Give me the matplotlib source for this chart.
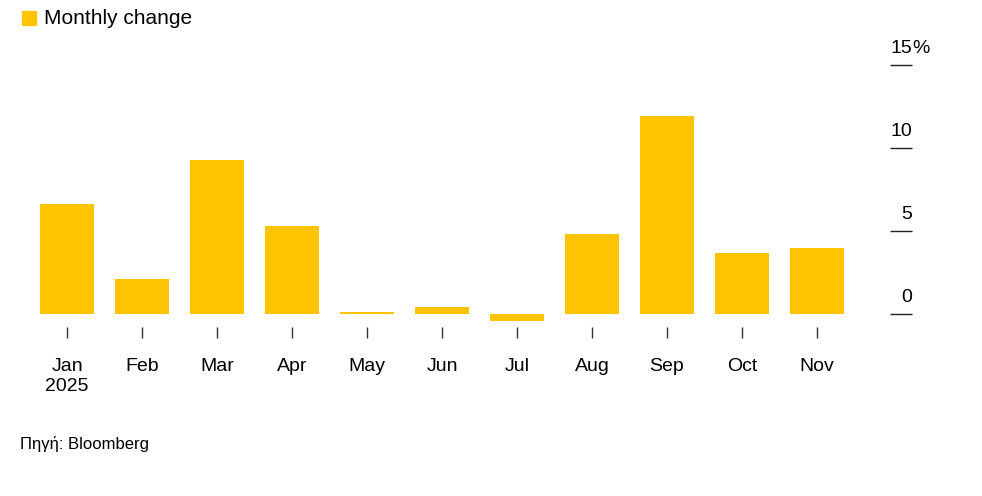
import matplotlib
matplotlib.use("Agg")
import matplotlib.pyplot as plt
from matplotlib.patches import Rectangle

months = ["Jan\n2025", "Feb", "Mar", "Apr", "May", "Jun", "Jul", "Aug", "Sep", "Oct", "Nov"]
values = [6.6, 2.1, 9.3, 5.3, 0.1, 0.45, -0.4, 4.8, 11.9, 3.7, 4.0]
yticks = [0, 5, 10, 15]
ytick_labels = ["0", "5", "10", "15"]
color = "#FFC400"

plt.rcParams['font.family'] = ['Liberation Sans', 'DejaVu Sans']
W, H = 982, 496
fig = plt.figure(figsize=(W/100, H/100), dpi=100)
left, right, bottom, top = 30, 912, 327, 30
ax = fig.add_axes([left/W, 1-bottom/H, (right-left)/W, (bottom-top)/H])
x = list(range(len(months)))
ax.bar(x, values, width=0.71, color=color)
ax.set_xlim(-(67-left)/75, (right-67)/75)
ax.set_ylim(-(bottom-314)/16.6, (314-top)/16.6)
for s in ax.spines.values():
    s.set_visible(False)
ax.set_xticks(x)
ax.set_xticklabels(months, fontsize=14, linespacing=1.3)
ax.tick_params(axis='x', length=8, width=1, color='#333333', pad=14)
ax.yaxis.tick_right()
ax.set_yticks(yticks)
ax.set_yticklabels([])
ax.tick_params(axis='y', direction='in', length=16, width=1, color='#222222')
for v, lab in zip(yticks, ytick_labels):
    ax.annotate(lab, xy=(1.0, v), xycoords=('axes fraction', 'data'),
                xytext=(0, 6), textcoords='offset points', ha='right', va='bottom', fontsize=14)
ax.annotate("%", xy=(1.0, 15), xycoords=('axes fraction', 'data'),
            xytext=(0, 6), textcoords='offset points', ha='left', va='bottom', fontsize=14)

fig.patches.append(Rectangle((22/W, 1-25/H), 14/W, 14/H, transform=fig.transFigure, color=color))
fig.text(44/W, 1-18/H, "Monthly change", fontsize=15, va='center', ha='left')
fig.text(20/W, 1-444/H, "Πηγή: Bloomberg", fontsize=12, va='center', ha='left')
fig.savefig("out.png", dpi=100)
